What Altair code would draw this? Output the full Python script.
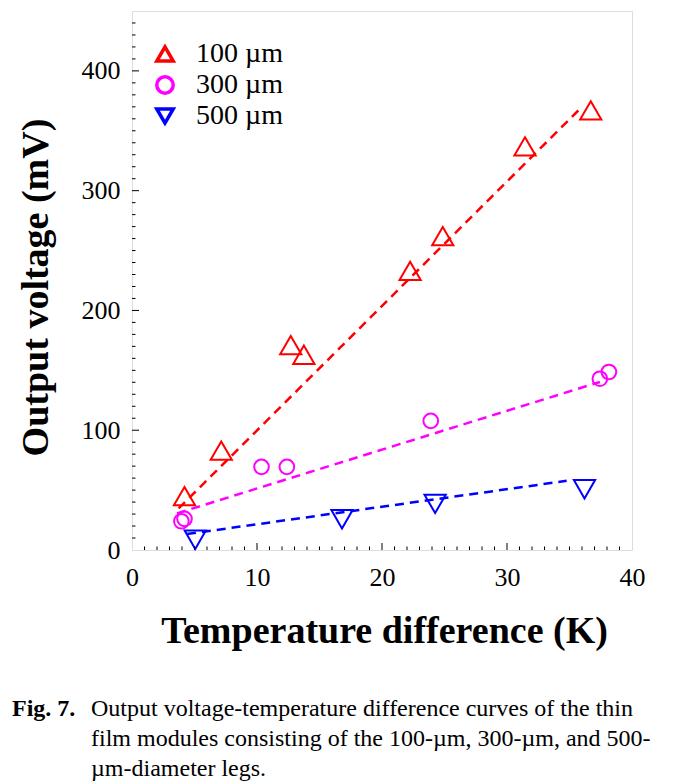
import altair as alt
import pandas as pd

# ---------------- data ----------------
series = ["100 µm", "300 µm", "500 µm"]
colors = ["#FF0000", "#FF00FF", "#0000FF"]
shapes = ["triangle-up", "circle", "triangle-down"]

dT_100 = [4.2, 7.14, 12.7, 13.75, 22.25, 24.86, 31.44, 36.7]
V_100 = [45, 83, 171, 163, 233, 262, 337, 367]

dT_300 = [3.95, 4.2, 10.36, 12.39, 23.9, 37.43, 38.15]
V_300 = [24, 26, 69.4, 69.4, 107.8, 143, 148.6]

dT_500 = [5.06, 16.8, 24.25, 36.2]
V_500 = [8.6, 25.7, 38.5, 50.7]

# dashed fit lines (start / end points)
fit_x_100 = [3.73, 36.0]
fit_y_100 = [34.7, 370]
fit_x_300 = [3.6, 37.43]
fit_y_300 = [30.6, 140.3]
fit_x_500 = [4.4, 34.77]
fit_y_500 = [13.3, 57.75]

x_tick_values = [0, 10, 20, 30, 40]
y_tick_values = [0, 100, 200, 300, 400]
x_major = [10, 20, 30]
x_minor = [1, 2, 3, 4, 5, 6, 7, 8, 9, 11, 12, 13, 14, 15, 16, 17, 18, 19,
           21, 22, 23, 24, 25, 26, 27, 28, 29, 31, 32, 33, 34, 35, 36, 37, 38, 39]
y_major = [100, 200, 300, 400]
y_minor = [10, 20, 30, 40, 50, 60, 70, 80, 90, 110, 120, 130, 140, 150, 160,
           170, 180, 190, 210, 220, 230, 240, 250, 260, 270, 280, 290, 310,
           320, 330, 340, 350, 360, 370, 380, 390, 410, 420, 430, 440]

x_title = "Temperature difference (K)"
y_title = "Output voltage (mV)"
cap_bold = "Fig. 7."
cap_lines = [
    "Output voltage-temperature difference curves of the thin",
    "film modules consisting of the 100-µm, 300-µm, and 500-",
    "µm-diameter legs.",
]

# ---------------- tables ----------------
pts = pd.DataFrame(
    [{"series": series[0], "x": a, "y": b} for a, b in zip(dT_100, V_100)]
    + [{"series": series[1], "x": a, "y": b} for a, b in zip(dT_300, V_300)]
    + [{"series": series[2], "x": a, "y": b} for a, b in zip(dT_500, V_500)]
)
fits = {
    series[0]: pd.DataFrame({"x": fit_x_100, "y": fit_y_100}),
    series[1]: pd.DataFrame({"x": fit_x_300, "y": fit_y_300}),
    series[2]: pd.DataFrame({"x": fit_x_500, "y": fit_y_500}),
}

W, H = 500, 539
FONT = "Liberation Serif"

xs = alt.Scale(domain=[0, 40], nice=False, zero=False)
ys = alt.Scale(domain=[0, 450], nice=False, zero=False)
color_scale = alt.Scale(domain=series, range=colors)
shape_scale = alt.Scale(domain=series, range=shapes)

x_axis = alt.Axis(
    values=x_tick_values, format="d", title=x_title,
    titleFont=FONT, titleFontSize=38, titleFontWeight="bold", titleColor="black",
    titleX=252, titleY=92, titleBaseline="alphabetic", titleAnchor="middle",
    labelFont=FONT, labelFontSize=26, labelColor="black", labelPadding=14,
    labelFlush=False, ticks=False, tickSize=0, domain=False, grid=False,
)
y_axis = alt.Axis(
    values=y_tick_values, format="d", title=y_title,
    titleFont=FONT, titleFontSize=38, titleFontWeight="bold", titleColor="black",
    titleX=-85, titleY=276, titleAngle=270, titleBaseline="alphabetic",
    titleAnchor="middle",
    labelFont=FONT, labelFontSize=26, labelColor="black", labelPadding=12,
    labelFlush=False, ticks=False, tickSize=0, domain=False, grid=False,
)

legend = alt.Legend(
    orient="none", legendX=19, legendY=29, title=None,
    labelFont=FONT, labelFontSize=28, labelColor="black", labelOffset=17,
    symbolSize=270, symbolStrokeWidth=3.5, rowPadding=0, padding=0,
)

# dashed fit lines, one layer per series
line_layers = []
for i, s in enumerate(series):
    enc = dict(x=alt.X("x:Q", scale=xs), y=alt.Y("y:Q", scale=ys))
    if i == 0:
        enc = dict(x=alt.X("x:Q", scale=xs, axis=x_axis),
                   y=alt.Y("y:Q", scale=ys, axis=y_axis))
    line_layers.append(
        alt.Chart(fits[s]).mark_line(
            strokeDash=[9, 6], strokeWidth=2.5, color=colors[i]
        ).encode(**enc)
    )

def point_layer(keep, size):
    return alt.Chart(pts).transform_filter(
        alt.FieldOneOfPredicate(field="series", oneOf=keep)
    ).mark_point(filled=False, strokeWidth=2, opacity=1, size=size).encode(
        x=alt.X("x:Q", scale=xs),
        y=alt.Y("y:Q", scale=ys),
        color=alt.Color("series:N", scale=color_scale, legend=legend),
        shape=alt.Shape("series:N", scale=shape_scale, legend=legend),
    )

tri_points = point_layer([series[0], series[2]], 450)
circ_points = point_layer([series[1]], 215)

def ticks_x(vals, length):
    return alt.Chart(pd.DataFrame({"v": vals})).mark_rule(
        color="black", strokeWidth=1
    ).encode(x=alt.X("v:Q", scale=xs), y=alt.value(H), y2=alt.value(H - length))

def ticks_y(vals, length):
    return alt.Chart(pd.DataFrame({"v": vals})).mark_rule(
        color="black", strokeWidth=1
    ).encode(y=alt.Y("v:Q", scale=ys), x=alt.value(0), x2=alt.value(length))

def caption(text, px, py, bold=False):
    return alt.Chart(pd.DataFrame({"t": [text]})).mark_text(
        font=FONT, fontSize=24, fontWeight="bold" if bold else "normal",
        align="left", baseline="alphabetic", color="black",
    ).encode(text="t:N", x=alt.value(px), y=alt.value(py))

chart = alt.layer(
    *line_layers,
    tri_points,
    circ_points,
    ticks_x(x_major, 7),
    ticks_x(x_minor, 3.5),
    ticks_y(y_major, 7),
    ticks_y(y_minor, 3.5),
    caption(cap_bold, -120, 705, bold=True),
    caption(cap_lines[0], -41, 705),
    caption(cap_lines[1], -41, 735),
    caption(cap_lines[2], -41, 765),
).properties(
    width=W, height=H,
    autosize=alt.AutoSizeParams(type="none"),
    padding={"left": 124, "top": 3, "right": 35, "bottom": 232},
).configure_view(
    stroke="black", strokeWidth=1.3
).configure(background="white")

chart.save("out.html", embed_options={"renderer": "svg", "actions": False})
